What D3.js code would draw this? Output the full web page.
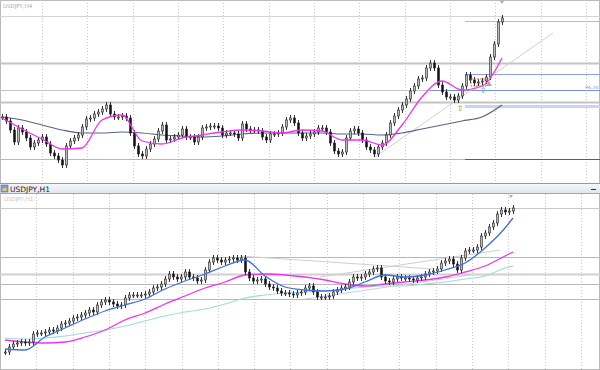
<!DOCTYPE html>
<html><head><meta charset="utf-8">
<script src="https://cdn.jsdelivr.net/npm/d3@7/dist/d3.min.js"></script>
<style>body{margin:0;background:#fff}svg{display:block}</style>
</head><body>
<svg id="c" width="600" height="370"></svg>
<script>
// ---- DATA ----
const topTitle = "USDJPY,H4";
const botTitle = "USDJPY,H1";
const topCloses = [95.66,95.58,95.40,95.16,95.44,95.36,95.24,95.06,95.14,95.20,95.26,95.12,94.94,94.88,94.80,94.70,95.08,95.18,95.24,95.30,95.46,95.62,95.64,95.72,95.76,95.82,95.90,95.72,95.66,95.66,95.68,95.64,95.34,95.08,94.92,94.88,95.02,95.12,95.22,95.38,95.50,95.20,95.22,95.26,95.30,95.42,95.26,95.26,95.16,95.26,95.44,95.46,95.48,95.48,95.44,95.30,95.34,95.34,95.32,95.24,95.52,95.42,95.40,95.40,95.38,95.26,95.20,95.32,95.32,95.34,95.46,95.60,95.64,95.54,95.34,95.24,95.28,95.32,95.36,95.44,95.44,95.36,95.14,94.98,94.92,94.96,95.24,95.38,95.42,95.34,95.20,95.06,95.00,94.92,95.06,95.14,95.30,95.54,95.68,95.80,95.90,96.02,96.18,96.28,96.42,96.44,96.64,96.74,96.64,96.30,96.16,96.06,96.06,96.00,96.08,96.28,96.50,96.40,96.34,96.36,96.38,96.46,96.86,97.12,97.56,97.64];
const topMaIdx = [0,5,10,15,20,25,30,35,40,45,50,55,60,65,70,75,80,85,90,95,100,105,110,115,120,125];
const topMaFast = [95.64,95.42,95.22,95.02,95.04,95.60,95.70,95.18,95.12,95.24,95.30,95.36,95.40,95.38,95.34,95.40,95.38,95.20,95.20,95.10,95.50,96.06,96.38,96.20,96.28,96.84];
const topMaSlow = [95.66,95.60,95.50,95.40,95.34,95.34,95.36,95.34,95.30,95.28,95.26,95.28,95.32,95.34,95.34,95.34,95.34,95.32,95.32,95.30,95.34,95.42,95.50,95.58,95.66,95.90];
const topGreyLevels = [97.68,96.74,96.20,95.96,94.82];
const topBlueLevels = [97.58,96.52,96.20,95.88,94.82];
const topTrend = [[93.25,94.86],[137.75,97.34]];

const botCloses = [94.96,95.06,95.12,95.14,95.16,95.14,95.16,95.32,95.34,95.34,95.36,95.40,95.38,95.44,95.52,95.54,95.58,95.64,95.66,95.70,95.74,95.80,95.76,95.90,95.96,96.00,95.96,95.92,95.88,95.90,96.04,96.10,96.10,96.10,96.10,96.12,96.16,96.24,96.26,96.32,96.42,96.52,96.46,96.42,96.46,96.56,96.46,96.44,96.38,96.40,96.60,96.76,96.84,96.80,96.76,96.80,96.82,96.84,96.80,96.84,96.56,96.44,96.38,96.40,96.42,96.32,96.26,96.24,96.18,96.14,96.14,96.12,96.10,96.14,96.16,96.24,96.28,96.16,96.06,96.06,96.06,96.08,96.16,96.20,96.24,96.26,96.36,96.46,96.44,96.46,96.52,96.56,96.62,96.64,96.46,96.38,96.36,96.42,96.46,96.44,96.44,96.42,96.40,96.44,96.46,96.52,96.56,96.58,96.62,96.74,96.78,96.82,96.72,96.60,96.84,96.98,97.00,97.00,97.06,97.28,97.34,97.46,97.54,97.72,97.80,97.76,97.78,97.84];
const botMaIdx = [0,5,10,15,20,25,30,35,40,45,50,55,60,65,70,75,80,85,90,95,100,105,110,115,120,125,127];
const botMaBlue = [95.02,95.00,95.26,95.44,95.62,95.78,95.90,96.02,96.22,96.38,96.52,96.68,96.80,96.48,96.26,96.20,96.18,96.22,96.36,96.50,96.46,96.50,96.60,96.74,97.04,97.44,97.64];
const botMaMagenta = [95.20,95.16,95.14,95.16,95.26,95.40,95.60,95.74,95.92,96.08,96.24,96.36,96.50,96.52,96.50,96.46,96.40,96.32,96.28,96.32,96.36,96.40,96.46,96.56,96.68,96.88,96.96];
const botMaCyan = [95.24,95.22,95.24,95.28,95.34,95.40,95.48,95.58,95.68,95.76,95.82,95.92,96.04,96.10,96.14,96.16,96.18,96.22,96.26,96.28,96.28,96.32,96.36,96.42,96.48,96.64,96.68];
const botLevels = [97.84,96.86,96.52,96.32,96.02];
const botTrends = [
  [[58.75,96.88],[107,96.62]],
  [[78.75,96.46],[123.75,97.00]],
  [[75,96.02],[116.25,96.50]]
];
const levelLabel = "96.20";

// ---- SCALES ----
const svg = d3.select("#c");
const xTop = d3.scaleLinear().domain([0,149.5]).range([2,600]);
const yTop = d3.scaleLinear().domain([98,94.34]).range([0,183]);
const xBot = d3.scaleLinear().domain([0,148.75]).range([5,600]);
const yBot = d3.scaleLinear().domain([98.10,94.60]).range([195,370]);

svg.append("rect").attr("x",0.5).attr("y",0.5).attr("width",599).attr("height",369).attr("fill","none").attr("stroke","#bbb");

function pane(g, x, y0, y1, gridIdx){
  g.selectAll("line.vg").data(gridIdx).join("line").attr("class","vg")
    .attr("x1",d=>Math.round(x(d))+0.5).attr("x2",d=>Math.round(x(d))+0.5)
    .attr("y1",y0).attr("y2",y1).attr("stroke","#c8c8c8").attr("stroke-dasharray","1,2");
}

// ---- TOP PANE ----
const gT = svg.append("g");
pane(gT, xTop, 0, 183, d3.range(10, 150, 11.33));
const topGreyStyles = [{w:1,c:"#d4d4d4"},{w:2,c:"#c4c4c4"},{w:1,c:"#c4c4c4"},{w:2,c:"#c4c4c4"},{w:1,c:"#b8b8b8"}];
gT.selectAll("line.gl").data(topGreyLevels).join("line").attr("class","gl")
  .attr("x1",0).attr("x2",600).attr("y1",d=>Math.round(yTop(d))+0.5).attr("y2",d=>Math.round(yTop(d))+0.5)
  .attr("stroke",(d,i)=>topGreyStyles[i].c).attr("stroke-width",(d,i)=>topGreyStyles[i].w);
const blueStyles = [{w:1,c:"#aab8ea",x:465},{w:1,c:"#8a9ee0",x:465},{w:1,c:"#7a8fd6",x:430},{w:3,c:"#c8d4f2",x:465},{w:1,c:"#4a5a9a",x:465}];
gT.selectAll("line.bl").data(topBlueLevels).join("line").attr("class","bl")
  .attr("x1",(d,i)=>blueStyles[i].x).attr("x2",600).attr("y1",d=>Math.round(yTop(d))+0.5).attr("y2",d=>Math.round(yTop(d))+0.5)
  .attr("stroke",(d,i)=>blueStyles[i].c).attr("stroke-width",(d,i)=>blueStyles[i].w);
gT.append("text").attr("x",598).attr("y",yTop(topBlueLevels[2])-1.5).attr("text-anchor","end").attr("font-size",4.5)
  .attr("font-family","DejaVu Sans").attr("fill","#7a8fd6").text(levelLabel);
gT.append("line").attr("x1",xTop(topTrend[0][0])).attr("y1",yTop(topTrend[0][1]))
  .attr("x2",xTop(topTrend[1][0])).attr("y2",yTop(topTrend[1][1])).attr("stroke","#cfcfcf");

function candles(g, closes, x, y){
  const data = closes.map((c,i)=>({i, o: i? closes[i-1] : c, c}));
  g.selectAll("line.wk").data(data).join("line").attr("class","wk")
    .attr("x1",d=>Math.round(x(d.i))+0.5).attr("x2",d=>Math.round(x(d.i))+0.5)
    .attr("y1",d=>y(Math.max(d.o,d.c))-3).attr("y2",d=>y(Math.min(d.o,d.c))+3)
    .attr("stroke","#333");
  g.selectAll("rect.bd").data(data).join("rect").attr("class","bd")
    .attr("x",d=>Math.round(x(d.i))-0.5).attr("width",2)
    .attr("y",d=>y(Math.max(d.o,d.c)))
    .attr("height",d=>Math.max(1, y(Math.min(d.o,d.c))-y(Math.max(d.o,d.c))))
    .attr("fill",d=>d.c>=d.o?"#bbb":"#111").attr("stroke","#222").attr("stroke-width",0.6);
}
function maLine(g, idx, vals, x, y, color, w){
  const line = d3.line().x(d=>x(d[0])).y(d=>y(d[1])).curve(d3.curveMonotoneX);
  g.append("path").attr("d", line(idx.map((d,i)=>[d, vals[i]])))
    .attr("fill","none").attr("stroke",color).attr("stroke-width",w);
}
maLine(gT, topMaIdx, topMaSlow, xTop, yTop, "#5a6482", 1.2);
candles(gT.append("g"), topCloses, xTop, yTop);
maLine(gT, topMaIdx, topMaFast, xTop, yTop, "#ee33ee", 1.3);

gT.append("rect").attr("x",471).attr("y",79).attr("width",15).attr("height",7)
  .attr("fill","none").attr("stroke","#e05030").attr("stroke-width",0.8).attr("stroke-dasharray","2,1");
gT.append("text").attr("x",460).attr("y",111).attr("text-anchor","middle").attr("font-size",8).attr("fill","#5aa05a").attr("font-family","DejaVu Sans").text("⇧");
gT.append("text").attr("x",483).attr("y",93).attr("text-anchor","middle").attr("font-size",8).attr("fill","#5aa05a").attr("font-family","DejaVu Sans").text("⇧");
gT.append("path").attr("d","M486,86 L489,81 L492,86 Z").attr("fill","#a8a8a8");
gT.append("path").attr("d","M500,1 L504,1 L502,4 Z").attr("fill","#aaa");
gT.append("text").attr("x",3).attr("y",8).attr("font-size",5.5).attr("font-family","DejaVu Sans").attr("fill","#aaa").text(topTitle);

// ---- SEPARATOR / TITLE BAR ----
svg.append("line").attr("x1",0).attr("x2",600).attr("y1",183.5).attr("y2",183.5).attr("stroke","#999");
const grad = svg.append("defs").append("linearGradient").attr("id","tb").attr("x1",0).attr("x2",0).attr("y1",0).attr("y2",1);
grad.append("stop").attr("offset","0%").attr("stop-color","#f4f6f9");
grad.append("stop").attr("offset","100%").attr("stop-color","#e2e6ec");
svg.append("rect").attr("x",0).attr("y",184).attr("width",600).attr("height",9).attr("fill","url(#tb)");
svg.append("line").attr("x1",0).attr("x2",600).attr("y1",193.5).attr("y2",193.5).attr("stroke","#a8a8a8");
svg.append("rect").attr("x",1).attr("y",185).attr("width",7).attr("height",7).attr("fill","#7aa0d8").attr("stroke","#4a70b0").attr("stroke-width",0.6);
svg.append("rect").attr("x",2.5).attr("y",188).attr("width",4).attr("height",3).attr("fill","#e8c070");
svg.append("text").attr("x",10).attr("y",191.5).attr("font-size",7.5).attr("font-family","DejaVu Sans").attr("fill","#222").text(botTitle);
svg.append("line").attr("x1",591).attr("x2",596).attr("y1",189.5).attr("y2",189.5).attr("stroke","#333");

// ---- BOTTOM PANE ----
const gB = svg.append("g");
pane(gB, xBot, 194, 370, d3.range(7.83, 150, 9.075));
const botStyles = [{w:1,c:"#c8c8c8"},{w:1,c:"#b8b8b8"},{w:2,c:"#d0d0d0"},{w:1,c:"#b8b8b8"},{w:1,c:"#b8b8b8"}];
gB.selectAll("line.bl").data(botLevels).join("line").attr("class","bl")
  .attr("x1",0).attr("x2",600).attr("y1",d=>Math.round(yBot(d))+0.5).attr("y2",d=>Math.round(yBot(d))+0.5)
  .attr("stroke",(d,i)=>botStyles[i].c).attr("stroke-width",(d,i)=>botStyles[i].w);
gB.selectAll("line.tr").data(botTrends).join("line").attr("class","tr")
  .attr("x1",d=>xBot(d[0][0])).attr("y1",d=>yBot(d[0][1]))
  .attr("x2",d=>xBot(d[1][0])).attr("y2",d=>yBot(d[1][1])).attr("stroke","#cfcfcf");
maLine(gB, botMaIdx, botMaCyan, xBot, yBot, "#9adcd8", 1.1);
maLine(gB, botMaIdx, botMaMagenta, xBot, yBot, "#ee33ee", 1.3);
candles(gB.append("g"), botCloses, xBot, yBot);
maLine(gB, botMaIdx, botMaBlue, xBot, yBot, "#3f6fe0", 1.3);
gB.append("path").attr("d","M509,195 L513,195 L511,198 Z").attr("fill","#aaa");
gB.append("text").attr("x",4).attr("y",201).attr("font-size",5.5).attr("font-family","DejaVu Sans").attr("fill","#c4c4c4").text(botTitle);
</script>
</body></html>
